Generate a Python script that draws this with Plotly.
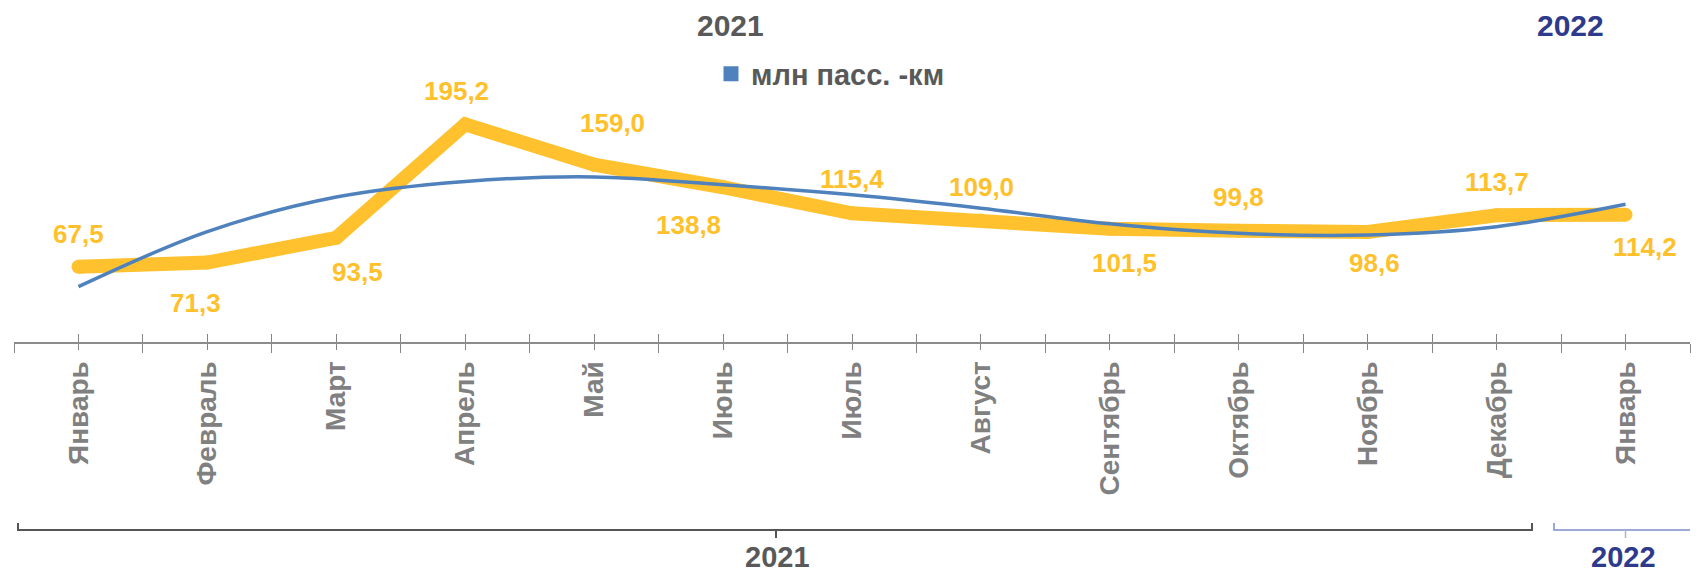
import plotly.graph_objects as go

# ---- data ----
months = ["Январь", "Февраль", "Март", "Апрель", "Май", "Июнь", "Июль",
          "Август", "Сентябрь", "Октябрь", "Ноябрь", "Декабрь", "Январь"]
values = [67.5, 71.3, 93.5, 195.2, 159.0, 138.8, 115.4, 109.0, 101.5, 99.8, 98.6, 113.7, 114.2]
labels = ["67,5", "71,3", "93,5", "195,2", "159,0", "138,8", "115,4", "109,0",
          "101,5", "99,8", "98,6", "113,7", "114,2"]
trend = [49.6, 99.0, 130.0, 144.0, 148.0, 141.0, 132.0, 120.0, 106.0, 97.5, 96.0, 103.4, 123.5]
legend_name = "млн пасс. -км"
year_groups = ["2021", "2022"]

# label placement (style): (x shift px, y shift px)
label_offsets = [(0, 33), (-12, -40), (21, -34), (-9, 33), (18, 42), (-35, -38), (0, 34),
                 (1, 33), (15, -34), (0, 34), (7, -31), (0, 33), (19, -32)]

W, H = 1701, 577
ML, MR, MT, MB = 14, 11, 62, 235
PW = W - ML - MR
PH = H - MT - MB
YMAX = PH / 1.115

def px(xpix):
    return (xpix - ML) / PW

def py(ypix):
    return (H - MB - ypix) / PH

def dx_of(xpix):
    return (xpix - ML) / PW * len(months) - 0.5

xs = list(range(len(months)))
YEL = "#FFC22E"
BLUE = "#4F81BD"
GRAY = "#595959"
NAVY = "#2E3B8B"
FONT = "Liberation Sans, Arial, sans-serif"

fig = go.Figure()
fig.add_trace(go.Scatter(x=xs, y=values, mode="lines+markers",
                         line=dict(color=YEL, width=14),
                         marker=dict(color=YEL, size=14),
                         showlegend=False, hoverinfo="skip"))
fig.add_trace(go.Scatter(x=xs, y=trend, mode="lines",
                         line=dict(color=BLUE, width=3.5, shape="spline", smoothing=1.0),
                         showlegend=False, hoverinfo="skip"))
fig.add_trace(go.Scatter(x=[None], y=[None], mode="markers", name=legend_name,
                         marker=dict(symbol="square", size=15, color=BLUE),
                         showlegend=True))
# helper trace for crossing ticks axis
fig.add_trace(go.Scatter(x=[None], y=[None], xaxis="x2", yaxis="y", showlegend=False))

for i, (v, t) in enumerate(zip(values, labels)):
    dx, dy = label_offsets[i]
    fig.add_annotation(x=i, y=v, xref="x", yref="y", text=t, showarrow=False,
                       xshift=dx, yshift=dy, xanchor="center", yanchor="middle",
                       font=dict(family=FONT, size=26, color="#FFC12B", weight="bold"))

boundaries = [i - 0.5 for i in range(len(months) + 1)]

fig.update_layout(
    width=W, height=H,
    margin=dict(l=ML, r=MR, t=MT, b=MB),
    paper_bgcolor="white", plot_bgcolor="white",
    xaxis=dict(range=[-0.5, len(months) - 0.5], tickmode="array", tickvals=xs, ticktext=months,
               tickangle=-90, ticks="outside", ticklen=6, tickcolor="#868686", tickwidth=1.3,
               showline=True, linecolor="#8C8C8C", linewidth=2, showgrid=False, zeroline=False,
               tickfont=dict(family=FONT, size=28, color="#808080", weight="bold"),
               ticklabelstandoff=0,
               minor=dict(tickmode="array", tickvals=boundaries, ticks="outside", ticklen=9,
                          tickcolor="#868686", tickwidth=1.3)),
    xaxis2=dict(overlaying="x", anchor="y", side="bottom", matches="x",
                range=[-0.5, len(months) - 0.5], tickmode="array",
                tickvals=boundaries + xs, ticks="inside", ticklen=8, tickcolor="#868686",
                tickwidth=1.3, showticklabels=False, showline=False, showgrid=False, zeroline=False),
    yaxis=dict(range=[0, YMAX], visible=False),
    showlegend=True,
    legend=dict(x=px(711), y=py(74), xanchor="left", yanchor="middle", orientation="h",
                font=dict(family=FONT, size=29, color=GRAY, weight="bold"),
                bgcolor="rgba(0,0,0,0)", itemwidth=30),
)

# year titles at top
fig.add_annotation(x=px(730), y=py(25), xref="paper", yref="paper", text=year_groups[0],
                   showarrow=False, xanchor="center", yanchor="middle",
                   font=dict(family=FONT, size=30, color=GRAY, weight="bold"))
fig.add_annotation(x=px(1570), y=py(25), xref="paper", yref="paper", text=year_groups[1],
                   showarrow=False, xanchor="center", yanchor="middle",
                   font=dict(family=FONT, size=30, color=NAVY, weight="bold"))

# bottom group brackets
yb = py(530)
yh = py(523)
ydown = py(538)
x21a, x21b = dx_of(18), dx_of(1532)
x22a, x22b = dx_of(1554), len(months) - 0.5 + 0.1
fig.add_shape(type="path", xref="x", yref="paper",
              path=f"M {x21a},{yh} L {x21a},{yb} L {x21b},{yb} L {x21b},{yh}",
              line=dict(color="#555555", width=2))
fig.add_shape(type="line", xref="x", yref="paper", x0=dx_of(776), x1=dx_of(776), y0=yb, y1=ydown,
              line=dict(color="#555555", width=2))
fig.add_shape(type="path", xref="x", yref="paper",
              path=f"M {x22a},{yh} L {x22a},{yb} L {x22b},{yb}",
              line=dict(color="#7F8FC8", width=1.5))
fig.add_shape(type="line", xref="x", yref="paper", x0=12, x1=12, y0=yb, y1=ydown,
              line=dict(color="#A9B4DC", width=1.5))

fig.add_annotation(x=px(777), y=py(557), xref="paper", yref="paper", text=year_groups[0],
                   showarrow=False, xanchor="center", yanchor="middle",
                   font=dict(family=FONT, size=29, color=GRAY, weight="bold"))
fig.add_annotation(x=px(1623), y=py(557), xref="paper", yref="paper", text=year_groups[1],
                   showarrow=False, xanchor="center", yanchor="middle",
                   font=dict(family=FONT, size=29, color=NAVY, weight="bold"))

fig.write_html("out.html", config={"displayModeBar": False},
               post_script="document.body.style.margin='0px';")
